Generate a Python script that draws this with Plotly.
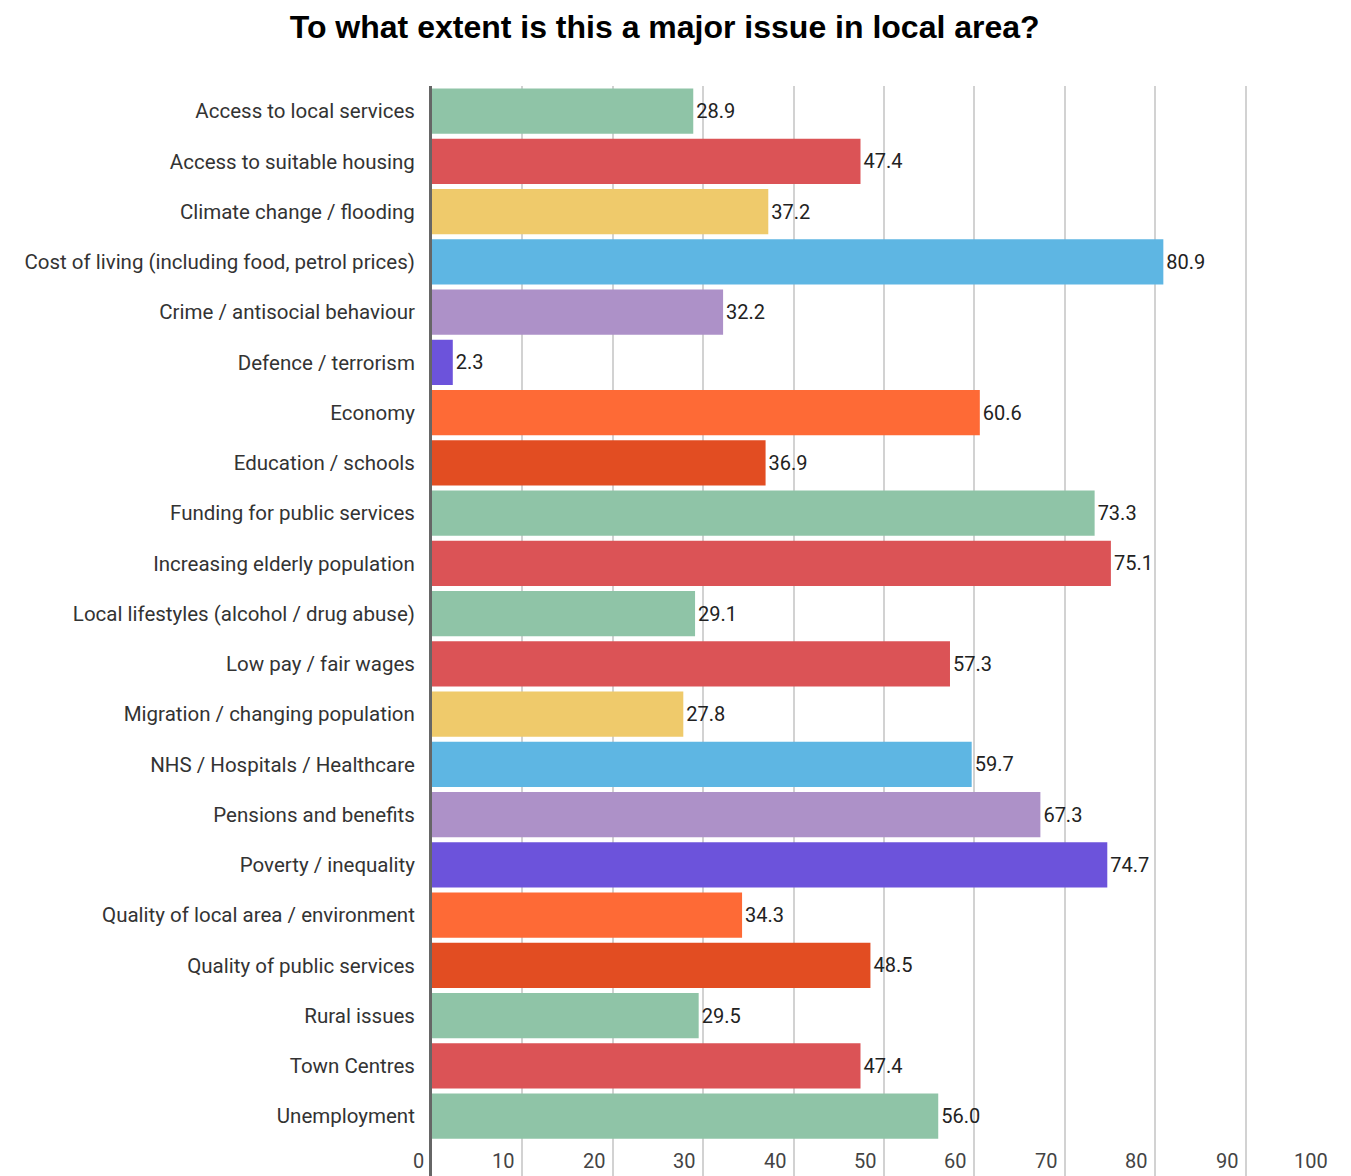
import plotly.graph_objects as go

# Survey categories (top to bottom) and the share (%) rating each a major local issue
categories = [
    "Access to local services",
    "Access to suitable housing",
    "Climate change / flooding",
    "Cost of living (including food, petrol prices)",
    "Crime / antisocial behaviour",
    "Defence / terrorism",
    "Economy",
    "Education / schools",
    "Funding for public services",
    "Increasing elderly population",
    "Local lifestyles (alcohol / drug abuse)",
    "Low pay / fair wages",
    "Migration / changing population",
    "NHS / Hospitals / Healthcare",
    "Pensions and benefits",
    "Poverty / inequality",
    "Quality of local area / environment",
    "Quality of public services",
    "Rural issues",
    "Town Centres",
    "Unemployment",
]
values = [28.9, 47.4, 37.2, 80.9, 32.2, 2.3, 60.6, 36.9, 73.3, 75.1,
          29.1, 57.3, 27.8, 59.7, 67.3, 74.7, 34.3, 48.5, 29.5, 47.4, 56.0]

# Repeating 10-colour palette
palette = ["#8fc4a7", "#db5356", "#efca6b", "#5eb6e3", "#ad91c8",
           "#6c53db", "#fe6a36", "#e24d22", "#8fc4a7", "#db5356"]
colors = [palette[i % len(palette)] for i in range(len(values))]

x_ticks = [0, 10, 20, 30, 40, 50, 60, 70, 80, 90, 100]

fig = go.Figure(
    go.Bar(
        x=values,
        y=list(range(len(categories))),
        orientation="h",
        marker=dict(color=colors, line=dict(width=0)),
        text=[f"{v:.1f}" for v in values],
        textposition="outside",
        textfont=dict(family="Roboto", size=20, color="#222222"),
        cliponaxis=False,
        width=0.9,
    )
)

# X tick labels sit just left of each gridline, along the bottom of the plot
for t in x_ticks:
    fig.add_annotation(
        x=t, xref="x", y=0, yref="paper",
        text=str(t), showarrow=False,
        xanchor="right", yanchor="bottom",
        xshift=-6, yshift=1,
        font=dict(family="Roboto", size=20, color="#444444"),
    )

fig.update_layout(
    width=1351,
    height=1176,
    margin=dict(l=432, r=15, t=86, b=0),
    paper_bgcolor="white",
    plot_bgcolor="white",
    showlegend=False,
    title=dict(
        text="<b>To what extent is this a major issue in local area?</b>",
        x=0.492,
        xanchor="center",
        y=1 - 27 / 1176,
        yanchor="middle",
        font=dict(family="Liberation Sans, Arial", size=32, color="#000000"),
    ),
    xaxis=dict(
        range=[0, 100],
        tickvals=x_ticks,
        showticklabels=False,
        showgrid=True,
        gridcolor="#d2d2d2",
        gridwidth=2,
        zeroline=False,
        showline=False,
        ticks="",
        fixedrange=True,
    ),
    yaxis=dict(
        range=[len(categories) - 1 + 1.19, -0.5],
        tickvals=list(range(len(categories))),
        ticktext=categories,
        tickfont=dict(family="Roboto", size=20.5, color="#333333"),
        ticklabelstandoff=10,
        showgrid=False,
        zeroline=False,
        showline=True,
        linecolor="#666666",
        linewidth=3,
        ticks="",
        fixedrange=True,
    ),
)

fig.write_html("out.html")
